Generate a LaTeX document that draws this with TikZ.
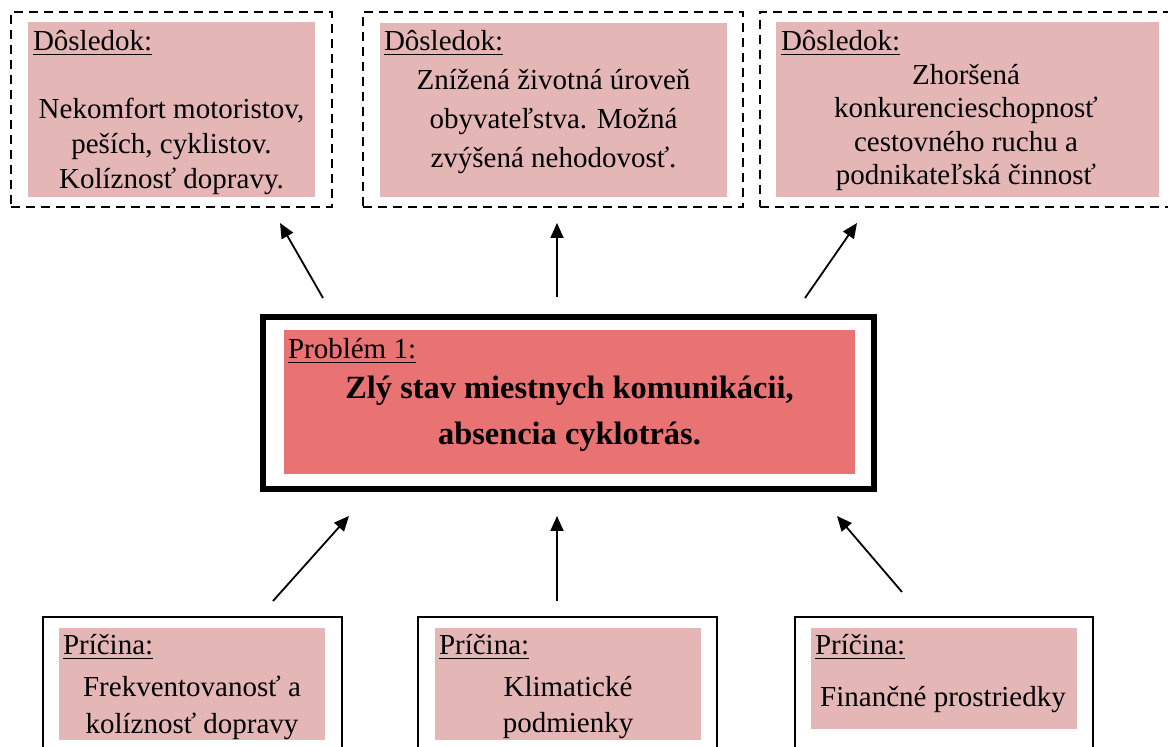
\documentclass[tikz,border=0pt]{standalone}
\usepackage{fontspec}
\setmainfont{Liberation Serif}
\usetikzlibrary{arrows.meta}
\definecolor{softpink}{HTML}{E5B6B6}
\definecolor{redpink}{HTML}{E97272}
\begin{document}
\begin{tikzpicture}[x=0.5pt,y=-0.5pt,
  every node/.style={inner sep=0pt,outer sep=0pt},
  dashbox/.style={draw,line width=1.25pt,dash pattern=on 4.5pt off 3pt},
  causebox/.style={draw,line width=1pt},
  probbox/.style={draw,line width=3.25pt},
  fillbox/.style={fill=softpink},
  probfill/.style={fill=redpink},
  hdr/.style={anchor=base west,font=\fontsize{14.5}{17}\selectfont},
  bodytext/.style={align=center},
  arr/.style={line width=0.9pt,-{Triangle[length=7.5pt,width=6.5pt]}}]
\useasboundingbox (0,0) rectangle (1168,747);
\clip (0,0) rectangle (1168,747);

% top consequence boxes
\node[dashbox,minimum width=160.5pt,minimum height=97.5pt] (c1) at (171.5,109.5) {};
\node[fillbox,minimum width=143.5pt,minimum height=87.5pt] (c1f) at (171.5,109.5) {};
\node[hdr] (c1h) at (33,51) {\underline{Dôsledok:}};
\node[bodytext,font=\fontsize{14.5}{17.5}\selectfont] (c1t) at (171.5,146) {Nekomfort motoristov,\\peších, cyklistov.\\Kolíznosť dopravy.};

\node[dashbox,minimum width=190pt,minimum height=97.5pt] (c2) at (553,109.5) {};
\node[fillbox,minimum width=173.5pt,minimum height=87pt] (c2f) at (553.5,110) {};
\node[hdr] (c2h) at (384,51) {\underline{Dôsledok:}};
\node[bodytext,font=\fontsize{14.5}{19.5}\selectfont] (c2t) at (553.5,122) {Znížená životná úroveň\\obyvateľstva. Možná\\zvýšená nehodovosť.};

\node[dashbox,minimum width=208pt,minimum height=97.5pt] (c3) at (968,109.5) {};
\node[fillbox,minimum width=191.5pt,minimum height=87.5pt] (c3f) at (967.5,109.5) {};
\node[hdr] (c3h) at (781,51) {\underline{Dôsledok:}};
\node[bodytext,font=\fontsize{14.5}{16.8}\selectfont] (c3t) at (966,127.5) {Zhoršená\\konkurencieschopnosť\\cestovného ruchu a\\podnikateľská činnosť};

% problem box
\node[probbox,minimum width=305.5pt,minimum height=86pt] (p) at (568.5,403) {};
\node[probfill,minimum width=285.5pt,minimum height=72pt] (pf) at (569.5,402) {};
\node[hdr] (ph) at (288,359) {\underline{Problém 1:}};
\node[bodytext,font=\fontsize{16.2}{23}\selectfont\bfseries] (pt) at (569.5,414) {Zlý stav miestnych komunikácii,\\absencia cyklotrás.};

% cause boxes
\node[causebox,minimum width=149.5pt,minimum height=76.5pt] (k1) at (192.5,693.5) {};
\node[fillbox,minimum width=133pt,minimum height=56pt] (k1f) at (192,684) {};
\node[hdr] (k1h) at (63,655) {\underline{Príčina:}};
\node[bodytext,font=\fontsize{14.5}{18.5}\selectfont] (k1t) at (192,707.5) {Frekventovanosť a\\kolíznosť dopravy};

\node[causebox,minimum width=149.5pt,minimum height=76.5pt] (k2) at (567.5,693.5) {};
\node[fillbox,minimum width=133pt,minimum height=56pt] (k2f) at (568,684) {};
\node[hdr] (k2h) at (439,655) {\underline{Príčina:}};
\node[bodytext,font=\fontsize{14.5}{18}\selectfont] (k2t) at (568,708) {Klimatické\\podmienky};

\node[causebox,minimum width=149pt,minimum height=76.5pt] (k3) at (944,693.5) {};
\node[fillbox,minimum width=133pt,minimum height=50.5pt] (k3f) at (944,678.5) {};
\node[hdr] (k3h) at (815,655) {\underline{Príčina:}};
\node[anchor=base,font=\fontsize{14.5}{17}\selectfont] (k3t) at (943,707) {Finančné prostriedky};

% arrow end points
\coordinate (t1s) at (323,298); \coordinate (t1e) at (280,223);
\coordinate (t2s) at (557,297); \coordinate (t2e) at (557,223);
\coordinate (t3s) at (805,298); \coordinate (t3e) at (857,223);
\coordinate (b1s) at (273,601); \coordinate (b1e) at (349,516);
\coordinate (b2s) at (557,601); \coordinate (b2e) at (557,516);
\coordinate (b3s) at (902,592); \coordinate (b3e) at (837,516);

\draw[arr] (t1s) -- (t1e);
\draw[arr] (t2s) -- (t2e);
\draw[arr] (t3s) -- (t3e);
\draw[arr] (b1s) -- (b1e);
\draw[arr] (b2s) -- (b2e);
\draw[arr] (b3s) -- (b3e);
\end{tikzpicture}
\end{document}
